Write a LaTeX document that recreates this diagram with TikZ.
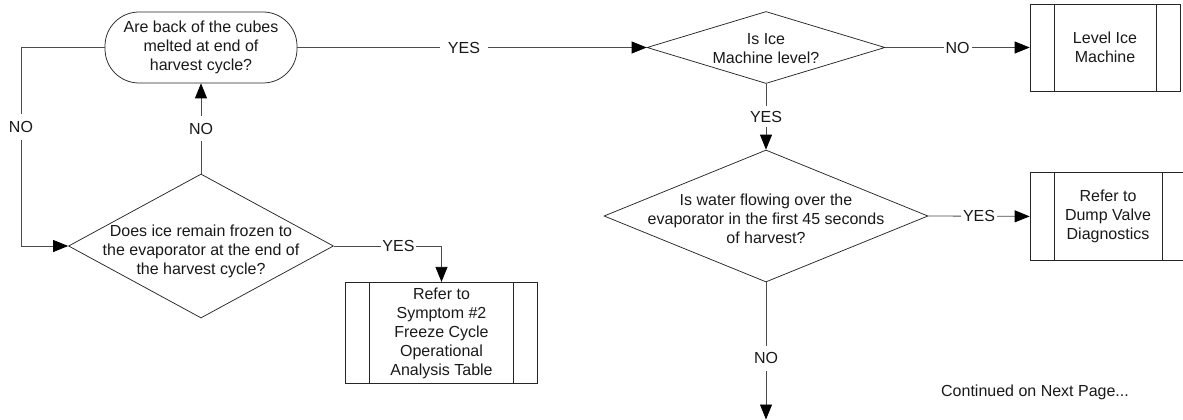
\documentclass[tikz,border=0pt]{standalone}
\usepackage{fontspec}
\setmainfont{Liberation Sans}
\usetikzlibrary{shapes.geometric,arrows.meta}
\begin{document}
\begin{tikzpicture}[x=1pt,y=-1pt,
  every node/.style={font=\fontsize{16}{19}\selectfont, text=black!90},
  shp/.style={draw=black!85, line width=0.75pt},
  term/.style={shp, rectangle, rounded corners=34pt, minimum width=192pt, minimum height=71pt, align=center, inner sep=0pt},
  dia/.style={shp, diamond, inner sep=0pt},
  proc/.style={shp, rectangle, inner sep=0pt, align=center,
    path picture={\draw[black!85, line width=0.75pt]
      ([xshift=24pt]path picture bounding box.north west) -- ([xshift=24pt]path picture bounding box.south west)
      ([xshift=-24pt]path picture bounding box.north east) -- ([xshift=-24pt]path picture bounding box.south east);}},
  conn/.style={draw=black!70, line width=0.8pt},
  arr/.style={conn, -{Triangle[length=15pt,width=12pt,color=black]}},
  lab/.style={fill=white, inner sep=2pt}
]
\useasboundingbox (0,0) rectangle (1183,420);

% nodes
\node[term] (term) at (201,47.5) {Are back of the cubes\\melted at end of\\harvest cycle?};
\node[dia, minimum width=265pt, minimum height=144pt,
  label={[align=center, yshift=-5pt]center:{Does ice remain frozen to\\the evaporator at the end of\\the harvest cycle?}}] (d1) at (201,246) {};
\node[dia, minimum width=238pt, minimum height=72pt,
  label={[align=center, yshift=-1pt]center:{Is Ice\\Machine level?}}] (d2) at (766,47.5) {};
\node[dia, minimum width=324pt, minimum height=132pt,
  label={[align=center, yshift=-3pt]center:{Is water flowing over the\\evaporator in the first 45 seconds\\of harvest?}}] (d3) at (766,216) {};
\node[proc, minimum width=150pt, minimum height=87pt] (box1) at (1105,47.5) {Level Ice\\Machine};
\node[proc, minimum width=156pt, minimum height=87.5pt] (box2) at (1108,216.4) {Refer to\\Dump Valve\\Diagnostics};
\node[proc, minimum width=191.6pt, minimum height=101.4pt] (box3) at (441.5,333) {Refer to\\Symptom \#2\\Freeze Cycle\\Operational\\Analysis Table};
\node (cont) at (1035,392) {Continued on Next Page...};
\coordinate (nextpage) at (766,419.5);

% connectors
\draw[arr] (term.west) -- (21,47.5) -- node[lab, pos=0.4, inner ysep=7pt]{NO} (21,246) -- (d1.west);
\draw[arr] (d1.north) -- node[lab, inner ysep=7pt]{NO} (term.south);
\draw[arr] (term.east) -- node[lab, pos=0.477, inner xsep=8pt]{YES} (d2.west);
\draw[arr] (d2.east) -- node[lab, inner xsep=2pt]{NO} (box1.west);
\draw[arr] (d2.south) -- node[lab, inner ysep=5pt]{YES} (d3.north);
\draw[arr] (d3.east) -- node[lab, inner xsep=2pt]{YES} (box2.west);
\draw[arr] (d3.south) -- node[lab, pos=0.555, inner ysep=7pt]{NO} (nextpage);
\draw[arr] (d1.east) -- node[lab, pos=0.6, inner xsep=1.5pt]{YES} (box3.north |- d1.east) -- (box3.north);
\end{tikzpicture}
\end{document}
